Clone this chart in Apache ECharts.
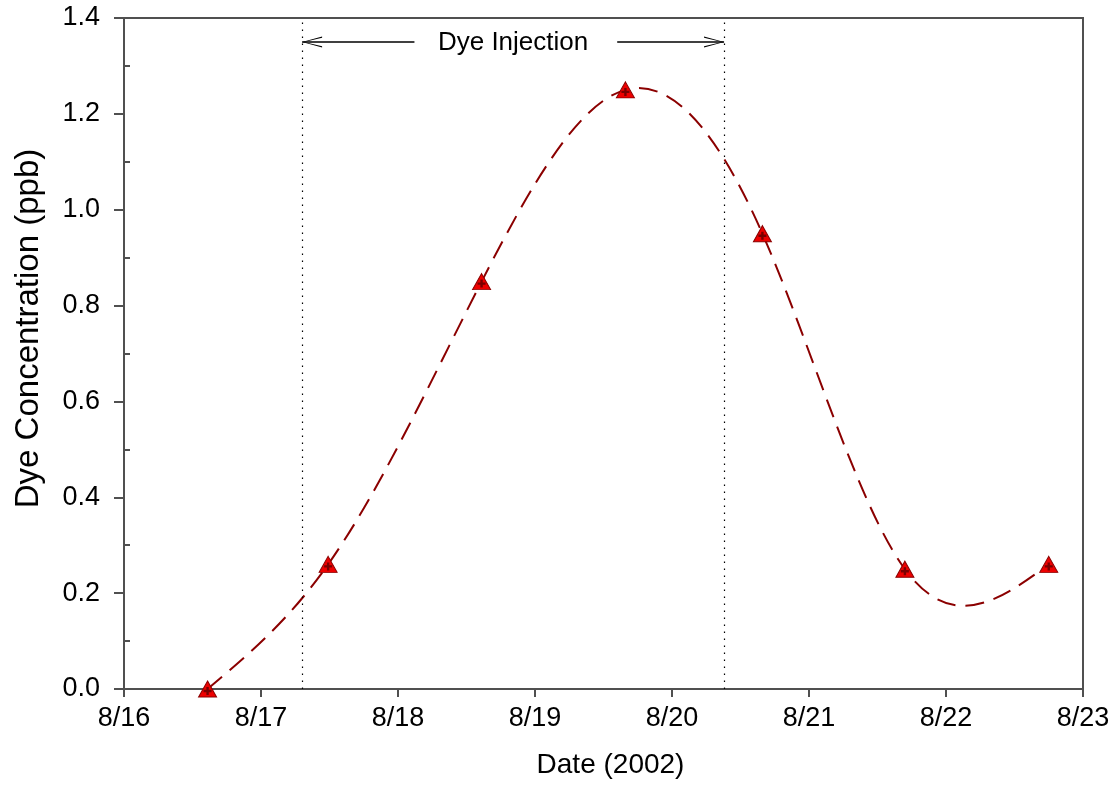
<!DOCTYPE html>
<html>
<head>
<meta charset="utf-8">
<script src="https://cdn.jsdelivr.net/npm/echarts@6/dist/echarts.min.js"></script>
<style>
  html, body { margin: 0; padding: 0; background: #fff; }
  #chart { width: 1116px; height: 791px; }
</style>
</head>
<body>
<div id="chart"></div>
<script>
// Sampling times in days after 8/16 00:00, and measured dye concentration
const sampleDays = [0.61, 1.49, 2.61, 3.66, 4.66, 5.70, 6.75];
const dyePpb = [0.0, 0.26, 0.85, 1.25, 0.95, 0.25, 0.26];

// Axis tick labels
const dayLabels = ['8/16', '8/17', '8/18', '8/19', '8/20', '8/21', '8/22', '8/23'];

// Injection period (days after 8/16) and its annotation
const injectionStart = 1.30;
const injectionEnd = 4.38;
const annotationLevel = 1.35;
const annotationText = 'Dye Injection';
const leftShaftEnd = 2.12;
const rightShaftStart = 3.60;
const annotationCenter = 2.84;

const FONT = '"Liberation Sans", Arial, sans-serif';
const FRAME = '#505050';
const CURVE = '#8b0000';

// Open chevron arrowhead; tip sits at the symbol centre
const chevron = 'path://M5,0 L5,0 Z M5,20 L10,40 L8.8,40 L5,22 L1.2,40 L0,40 Z';
// Small plus drawn inside each triangle marker
const plus = 'path://M3.5,0 L6.5,0 L6.5,3.5 L10,3.5 L10,6.5 L6.5,6.5 L6.5,10 L3.5,10 L3.5,6.5 L0,6.5 L0,3.5 L3.5,3.5 Z';

const points = sampleDays.map((d, i) => [d, dyePpb[i]]);

// Natural cubic spline through the samples: second derivatives at each knot
function splineSecondDerivs(xs, ys) {
  const n = xs.length;
  const h = [];
  for (let i = 0; i < n - 1; i++) h.push(xs[i + 1] - xs[i]);
  const a = new Array(n).fill(0), b = new Array(n).fill(1);
  const c = new Array(n).fill(0), d = new Array(n).fill(0);
  for (let i = 1; i < n - 1; i++) {
    a[i] = h[i - 1];
    b[i] = 2 * (h[i - 1] + h[i]);
    c[i] = h[i];
    d[i] = 6 * ((ys[i + 1] - ys[i]) / h[i] - (ys[i] - ys[i - 1]) / h[i - 1]);
  }
  for (let i = 1; i < n; i++) {
    const w = a[i] / b[i - 1];
    b[i] -= w * c[i - 1];
    d[i] -= w * d[i - 1];
  }
  const m = new Array(n).fill(0);
  m[n - 1] = d[n - 1] / b[n - 1];
  for (let i = n - 2; i >= 0; i--) m[i] = (d[i] - c[i] * m[i + 1]) / b[i];
  return m;
}

// Each spline piece as a cubic Bezier in data space (controls at thirds in x)
function splineBeziers(xs, ys) {
  const m = splineSecondDerivs(xs, ys);
  const segs = [];
  for (let i = 0; i < xs.length - 1; i++) {
    const h = xs[i + 1] - xs[i];
    const sec = (ys[i + 1] - ys[i]) / h;
    const s0 = sec - h * (2 * m[i] + m[i + 1]) / 6;
    const s1 = sec + h * (m[i] + 2 * m[i + 1]) / 6;
    segs.push({
      p0: [xs[i], ys[i]],
      c1: [xs[i] + h / 3, ys[i] + s0 * h / 3],
      c2: [xs[i + 1] - h / 3, ys[i + 1] - s1 * h / 3],
      p1: [xs[i + 1], ys[i + 1]]
    });
  }
  return segs;
}

const curveSegments = splineBeziers(sampleDays, dyePpb);

const gridLeft = 124, gridRight = 33, gridTop = 18, gridBottom = 102;
const yMax = 1.4;
const pxPerUnit = (791 - gridTop - gridBottom) / yMax;

const chart = echarts.init(document.getElementById('chart'), null, { renderer: 'canvas' });

chart.setOption({
  animation: false,
  backgroundColor: '#fff',
  grid: [
    {
      left: gridLeft, right: gridRight, top: gridTop, bottom: gridBottom,
      show: true, borderColor: FRAME, borderWidth: 2, backgroundColor: 'transparent'
    },
    // Helper grid carrying the inward half-step ticks (0.1, 0.3, ... 1.3)
    {
      left: gridLeft, right: gridRight,
      top: gridTop + 0.1 * pxPerUnit, bottom: gridBottom + 0.1 * pxPerUnit,
      show: false
    }
  ],
  xAxis: [
    {
      type: 'value', gridIndex: 0, min: 0, max: 7, interval: 1,
      name: 'Date (2002)', nameLocation: 'middle', nameGap: 62,
      nameTextStyle: { fontFamily: FONT, fontSize: 28, color: '#000', padding: [0, 0, 0, 14] },
      axisLine: { show: true, lineStyle: { color: FRAME, width: 2 } },
      axisTick: { show: true, inside: false, length: 8, lineStyle: { color: FRAME, width: 2 } },
      axisLabel: {
        fontFamily: FONT, fontSize: 27, color: '#000', margin: 16,
        formatter: v => dayLabels[Math.round(v)]
      },
      splitLine: { show: false }
    },
    { type: 'value', gridIndex: 1, min: 0, max: 7, show: false }
  ],
  yAxis: [
    {
      type: 'value', gridIndex: 0, min: 0, max: yMax, interval: 0.2,
      name: 'Dye Concentration (ppb)', nameLocation: 'middle', nameGap: 79,
      nameTextStyle: { fontFamily: FONT, fontSize: 33, color: '#000', padding: [0, 0, 0, 50] },
      axisLine: { show: true, lineStyle: { color: FRAME, width: 2 } },
      axisTick: { show: true, inside: false, length: 10, lineStyle: { color: FRAME, width: 2 } },
      axisLabel: {
        fontFamily: FONT, fontSize: 27, color: '#000', margin: 24,
        formatter: v => v.toFixed(1)
      },
      splitLine: { show: false }
    },
    {
      type: 'value', gridIndex: 1, min: 0, max: 1.2, interval: 0.2,
      axisLine: { show: false },
      axisTick: { show: true, inside: true, length: 6, lineStyle: { color: FRAME, width: 2 } },
      axisLabel: { show: false },
      splitLine: { show: false }
    }
  ],
  series: [
    // Injection period boundaries
    {
      type: 'line', xAxisIndex: 0, yAxisIndex: 0, data: [], z: 1, silent: true,
      markLine: {
        silent: true, symbol: 'none', animation: false,
        label: { show: false },
        lineStyle: { color: '#000', width: 1.2, type: [1.5, 5.5] },
        emphasis: { disabled: true },
        data: [{ xAxis: injectionStart }, { xAxis: injectionEnd }]
      }
    },
    // Arrows pointing out to the boundaries
    {
      type: 'line', xAxisIndex: 0, yAxisIndex: 0, data: [], z: 1, silent: true,
      markLine: {
        silent: true, animation: false,
        symbol: [chevron, 'none'], symbolSize: [11, 40],
        label: { show: false },
        lineStyle: { color: '#000', width: 1.5, type: 'solid' },
        emphasis: { disabled: true },
        data: [[{ coord: [injectionStart, annotationLevel] }, { coord: [leftShaftEnd, annotationLevel] }]]
      }
    },
    {
      type: 'line', xAxisIndex: 0, yAxisIndex: 0, data: [], z: 1, silent: true,
      markLine: {
        silent: true, animation: false,
        symbol: ['none', chevron], symbolSize: [11, 40],
        label: { show: false },
        lineStyle: { color: '#000', width: 1.5, type: 'solid' },
        emphasis: { disabled: true },
        data: [[{ coord: [rightShaftStart, annotationLevel] }, { coord: [injectionEnd, annotationLevel] }]]
      }
    },
    // Annotation text
    {
      type: 'custom', xAxisIndex: 0, yAxisIndex: 0, silent: true, z: 2,
      data: [[annotationCenter, annotationLevel]],
      renderItem: (params, api) => {
        const p = api.coord([api.value(0), api.value(1)]);
        return {
          type: 'text',
          style: {
            x: p[0], y: p[1] + 1, text: annotationText,
            fill: '#000', font: '26px ' + FONT,
            align: 'center', verticalAlign: 'middle'
          }
        };
      }
    },
    // Dashed spline through the samples
    {
      type: 'custom', xAxisIndex: 0, yAxisIndex: 0, silent: true, z: 3,
      data: points,
      renderItem: (params, api) => {
        if (params.dataIndex !== 0) return null;
        const pt = q => api.coord(q);
        let d = '';
        curveSegments.forEach((s, i) => {
          const a = pt(s.p0), c1 = pt(s.c1), c2 = pt(s.c2), b = pt(s.p1);
          if (i === 0) d += 'M' + a[0] + ',' + a[1];
          d += ' C' + c1[0] + ',' + c1[1] + ' ' + c2[0] + ',' + c2[1] + ' ' + b[0] + ',' + b[1];
        });
        return {
          type: 'path',
          shape: { pathData: d },
          style: { stroke: CURVE, lineWidth: 2, fill: null, lineDash: [19, 10] }
        };
      }
    },
    // Triangle markers with a plus inside
    {
      type: 'scatter', xAxisIndex: 0, yAxisIndex: 0, z: 4, silent: true,
      data: points,
      symbol: 'triangle', symbolSize: [18, 16],
      itemStyle: { color: '#ee0000', borderColor: '#8b0000', borderWidth: 1, opacity: 1 }
    },
    {
      type: 'scatter', xAxisIndex: 0, yAxisIndex: 0, z: 5, silent: true,
      data: points,
      symbol: plus, symbolSize: 8, symbolOffset: [0, 2],
      itemStyle: { color: '#7a0000', opacity: 1 }
    }
  ]
});
</script>
</body>
</html>
